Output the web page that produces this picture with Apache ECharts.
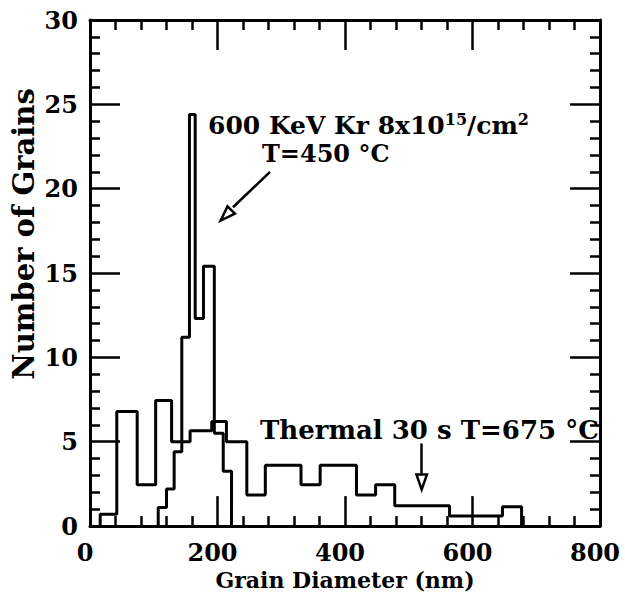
<!DOCTYPE html>
<html>
<head>
<meta charset="utf-8">
<title>Grain size distribution</title>
<script src="https://cdn.jsdelivr.net/npm/echarts@6/dist/echarts.min.js"></script>
<style>
  html, body { margin: 0; padding: 0; background: #fff; }
  #chart { width: 625px; height: 596px; }
</style>
</head>
<body>
<div id="chart"></div>
<script>
// thermal anneal 30 s, T=675 C : bin edges (nm) and heights
const thermalEdges = [16, 42, 74, 103, 128, 157, 191, 214, 246, 275, 331, 361, 418, 448, 478, 564, 647, 677]
const thermalCounts = [0.7, 6.8, 2.45, 7.45, 5.0, 5.65, 6.2, 5.0, 1.85, 3.6, 2.45, 3.6, 1.85, 2.45, 1.2, 0.6, 1.15]

// 600 keV Kr implanted, T=450 C
const implantEdges = [107, 120, 132, 144, 156, 165, 178, 195, 209, 222]
const implantCounts = [1.1, 2.2, 4.4, 11.2, 24.4, 12.3, 15.4, 5.5, 3.25]

const xTicks = [0, 200, 400, 600, 800]
const yTicks = [0, 5, 10, 15, 20, 25, 30]

const FONT = 'DejaVu Serif'
const hollowTriangle = 'path://M7 0L14 20L0 20Z M7 7.6L3.5 17.5L10.5 17.5Z'

// histogram outline as step points
function stepPoints(edges, counts) {
  const pts = [[edges[0], 0]]
  counts.forEach((c, i) => pts.push([edges[i], c]))
  pts.push([edges[edges.length - 1], 0])
  return pts
}

function axisCommon(showLabel) {
  return {
    axisLine: { show: true, onZero: false, lineStyle: { color: '#000', width: 3 } },
    axisTick: { show: true, inside: true, length: 30, lineStyle: { color: '#000', width: 2.5 } },
    minorTick: { show: true, splitNumber: 5, length: 10, lineStyle: { color: '#000', width: 2.5 } },
    splitLine: { show: false },
    axisLabel: {
      show: showLabel,
      color: '#000',
      fontFamily: FONT,
      fontWeight: 'bold',
      fontSize: 24
    }
  }
}

const chart = echarts.init(document.getElementById('chart'), null, { renderer: 'svg' })

const xBase = {
  type: 'value',
  min: xTicks[0],
  max: xTicks[xTicks.length - 1],
  interval: xTicks[1] - xTicks[0]
}
const yBase = {
  type: 'value',
  min: yTicks[0],
  max: yTicks[yTicks.length - 1],
  interval: yTicks[1] - yTicks[0]
}

const bottomX = Object.assign({}, xBase, axisCommon(true), {
  position: 'bottom',
  name: 'Grain Diameter (nm)',
  nameLocation: 'middle',
  nameGap: 42,
  nameTextStyle: { color: '#000', fontFamily: FONT, fontWeight: 'bold', fontSize: 22 }
})
bottomX.axisLabel.margin = 14
bottomX.axisLabel.padding = [0, 10, 0, 0]

const leftY = Object.assign({}, yBase, axisCommon(true), { position: 'left' })
leftY.axisLabel.margin = 12

const option = {
  animation: false,
  backgroundColor: '#fff',
  grid: { left: 90, top: 20, width: 510, height: 508 },
  xAxis: [
    bottomX,
    Object.assign({}, xBase, axisCommon(false), { position: 'top' })
  ],
  yAxis: [
    leftY,
    Object.assign({}, yBase, axisCommon(false), { position: 'right' })
  ],
  graphic: [
    {
      type: 'text',
      x: 24,
      y: 234,
      rotation: Math.PI / 2,
      style: {
        text: 'Number of Grains',
        fill: '#000',
        font: 'bold 29px "DejaVu Serif"',
        align: 'center',
        verticalAlign: 'middle'
      }
    },
    {
      type: 'text',
      x: 208,
      y: 139,
      style: {
        text: '{a|600 KeV Kr 8x10}{sup|15}{a|/cm}{sup|2}\n{b|T=450 °C}',
        fill: '#000',
        verticalAlign: 'middle',
        rich: {
          a: { fontSize: 25, fontWeight: 'bold', fontFamily: FONT, fill: '#000', lineHeight: 28 },
          sup: { fontSize: 16, fontWeight: 'bold', fontFamily: FONT, fill: '#000', verticalAlign: 'top', lineHeight: 28 },
          b: { fontSize: 24, fontWeight: 'bold', fontFamily: FONT, fill: '#000', lineHeight: 28, padding: [0, 0, 0, 54] }
        }
      }
    },
    {
      type: 'text',
      x: 260,
      y: 430,
      style: {
        text: 'Thermal 30 s T=675 °C',
        fill: '#000',
        font: 'bold 26px "DejaVu Serif"',
        verticalAlign: 'middle'
      }
    }
  ],
  series: [
    {
      name: 'Thermal 30 s T=675 °C',
      type: 'line',
      step: 'end',
      symbol: 'none',
      data: stepPoints(thermalEdges, thermalCounts),
      lineStyle: { color: '#000', width: 3 },
      markLine: {
        silent: true,
        symbol: ['none', 'none'],
        label: { show: false },
        lineStyle: { color: '#000', width: 2.5, type: 'solid' },
        data: [[{ coord: [520.3, 4.9] }, { coord: [520.3, 3.13] }]]
      },
      markPoint: {
        silent: true,
        symbol: hollowTriangle,
        symbolSize: [14, 20],
        itemStyle: { color: '#000' },
        label: { show: false },
        data: [{ coord: [520.3, 2.54], symbolRotate: 180 }]
      }
    },
    {
      name: '600 KeV Kr',
      type: 'line',
      step: 'end',
      symbol: 'none',
      data: stepPoints(implantEdges, implantCounts),
      lineStyle: { color: '#000', width: 3 },
      markLine: {
        silent: true,
        symbol: ['none', 'none'],
        label: { show: false },
        lineStyle: { color: '#000', width: 2.5, type: 'solid' },
        data: [[{ coord: [282.4, 21.0] }, { coord: [224.3, 18.9] }]]
      },
      markPoint: {
        silent: true,
        symbol: hollowTriangle,
        symbolSize: [14, 20],
        itemStyle: { color: '#000' },
        label: { show: false },
        data: [{ coord: [211.8, 18.37], symbolRotate: 135 }]
      }
    }
  ]
}

chart.setOption(option)
</script>
</body>
</html>
